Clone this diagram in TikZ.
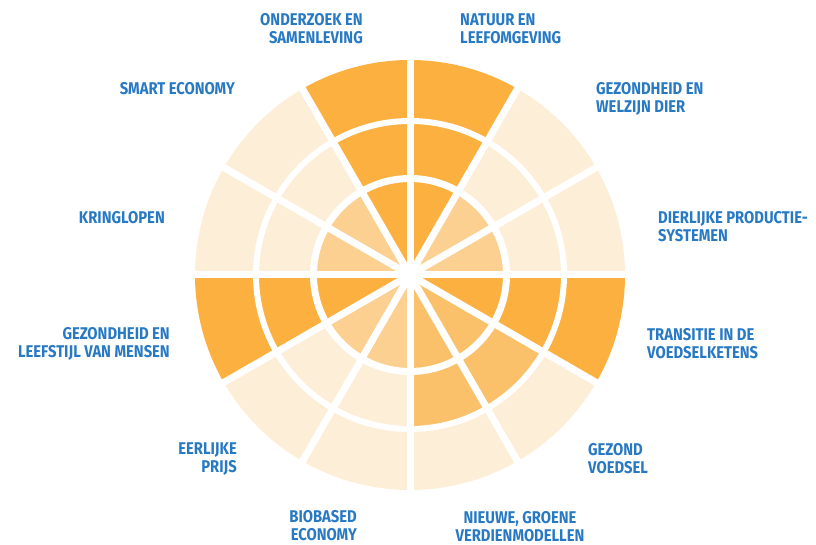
\documentclass[tikz,border=0pt]{standalone}
\usepackage{fontspec}
\newfontfamily\labelfont[FakeStretch=0.87]{Fira Sans}
\definecolor{full}{RGB}{252,176,64}
\definecolor{mid}{RGB}{251,192,106}
\definecolor{light}{RGB}{252,208,144}
\definecolor{pale}{RGB}{253,238,216}
\definecolor{labelblue}{RGB}{40,121,196}
\tikzset{
    lbl/.style={inner sep=0pt, text=labelblue,
            font=\labelfont\bfseries\fontsize{17}{18}\selectfont},
    gap/.style={white, line width=7pt}
}
\begin{document}
\begin{tikzpicture}[x=1pt,y=1pt]
    \useasboundingbox (0,0) rectangle (816,545);
    \begin{scope}[shift={(410,270)}]
        \foreach \a/\ci/\cm/\co in {0/light/pale/pale, 30/light/pale/pale,
                60/full/full/full, 90/full/full/full, 120/light/pale/pale,
                150/light/pale/pale, 180/full/full/full, 210/light/pale/pale,
                240/light/pale/pale, 270/mid/mid/pale, 300/mid/mid/pale,
                330/full/full/full} {
                \fill[\ci] (0,0) -- (\a:97) arc[start angle=\a, end angle=\a+30, radius=97] -- cycle;
                \fill[\cm] (\a:97) arc[start angle=\a, end angle=\a+30, radius=97]
                -- (\a+30:154) arc[start angle=\a+30, end angle=\a, radius=154] -- cycle;
                \fill[\co] (\a:154) arc[start angle=\a, end angle=\a+30, radius=154]
                -- (\a+30:215) arc[start angle=\a+30, end angle=\a, radius=215] -- cycle;
            }
        \draw[gap] (0,0) circle (96.5);
        \draw[gap, line width=6pt] (0,0) circle (154);
        \foreach \a in {0,30,...,150} {
                \draw[gap] (\a:220) -- (\a+180:220);
            }
    \end{scope}

    \node[lbl, anchor=east, align=right] (onderzoek) at (363,516.5) {ONDERZOEK EN\\SAMENLEVING};
    \node[lbl, anchor=west, align=left] (natuur) at (460,516.5) {NATUUR EN\\LEEFOMGEVING};
    \node[lbl, anchor=west, align=left] (dier) at (596,446.5) {GEZONDHEID EN\\WELZIJN DIER};
    \node[lbl, anchor=west, align=left] (productie) at (658,318) {DIERLIJKE PRODUCTIE-\\SYSTEMEN};
    \node[lbl, anchor=west, align=left] (transitie) at (647,201) {TRANSITIE IN DE\\VOEDSELKETENS};
    \node[lbl, anchor=west, align=left] (voedsel) at (588,86) {GEZOND\\VOEDSEL};
    \node[lbl, align=center] (verdien) at (520,18) {NIEUWE, GROENE\\VERDIENMODELLEN};
    \node[lbl, anchor=east, align=right] (biobased) at (357,19) {BIOBASED\\ECONOMY};
    \node[lbl, anchor=east, align=right] (prijs) at (237,86) {EERLIJKE\\PRIJS};
    \node[lbl, anchor=east, align=right] (mensen) at (170,201) {GEZONDHEID EN\\LEEFSTIJL VAN MENSEN};
    \node[lbl, anchor=east] (kringlopen) at (165,327) {KRINGLOPEN};
    \node[lbl, anchor=east] (smart) at (235,456) {SMART ECONOMY};
\end{tikzpicture}
\end{document}
